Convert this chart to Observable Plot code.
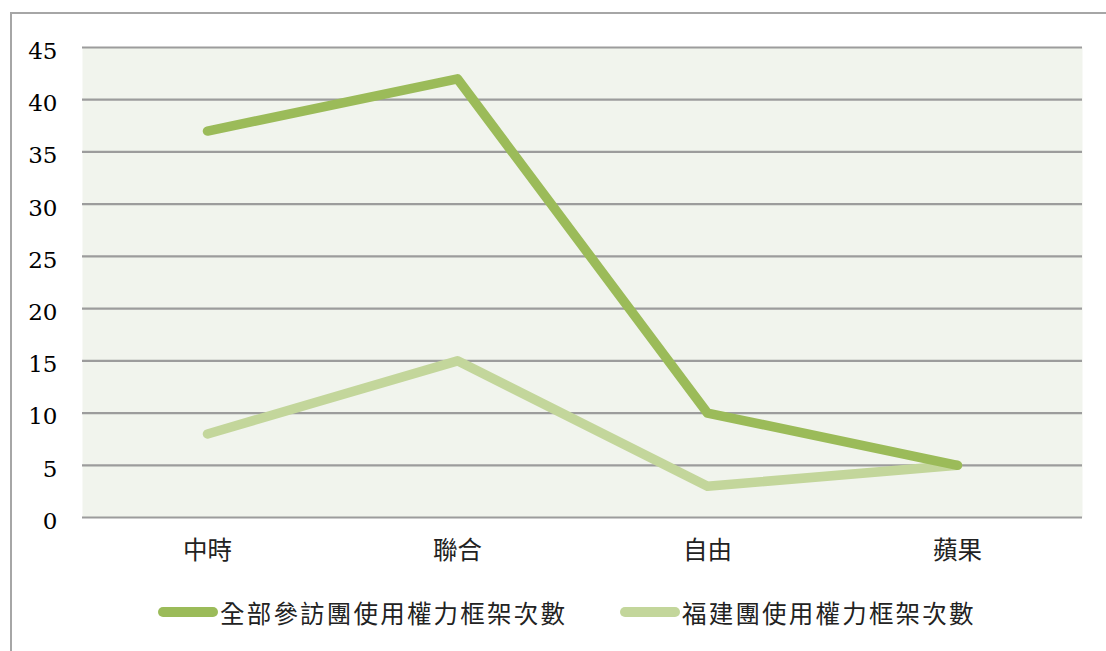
<!DOCTYPE html>
<html>
<head>
<meta charset="utf-8">
<script src="https://cdn.jsdelivr.net/npm/d3@7"></script>
<script src="https://cdn.jsdelivr.net/npm/@observablehq/plot@0.6"></script>
<style>
  html, body { margin: 0; padding: 0; width: 1106px; height: 651px; overflow: hidden; background: #fff; }
  #frame { position: absolute; left: 10px; top: 12px; width: 1200px; height: 700px; border: 2px solid #a6a6a6; box-sizing: border-box; }
  #chart { position: absolute; left: 0; top: 0; }
  #legend { position: absolute; left: 0; top: 594px; width: 1106px; height: 36px; font-family: "Noto Sans CJK TC", "Noto Sans CJK SC", sans-serif; font-size: 24.5px; color: #222; letter-spacing: 2.2px; }
  .item { position: absolute; top: 0; display: flex; align-items: center; height: 36px; }
  .sw { width: 60px; height: 10px; border-radius: 5px; margin-right: 2px; }
</style>
</head>
<body>
<div id="frame"></div>
<div id="chart"></div>
<div id="legend"></div>
<script>
const categories = ["中時", "聯合", "自由", "蘋果"];
const seriesNames = ["全部參訪團使用權力框架次數", "福建團使用權力框架次數"];
const allGroups = [37, 42, 10, 5];
const fujianGroup = [8, 15, 3, 5];
const yTicks = [0, 5, 10, 15, 20, 25, 30, 35, 40, 45];
const colors = ["#9bbb59", "#c3d69b"];

const data = [];
categories.forEach((c, i) => {
  data.push({ cat: c, value: allGroups[i], series: seriesNames[0] });
  data.push({ cat: c, value: fujianGroup[i], series: seriesNames[1] });
});

const chart = Plot.plot({
  width: 1106,
  height: 575,
  marginTop: 47,
  marginLeft: 82,
  marginRight: 24,
  marginBottom: 58,
  style: { background: "transparent", overflow: "visible" },
  x: { type: "point", domain: categories, padding: 0.5, label: null },
  y: { domain: [0, 45], label: null },
  color: { domain: seriesNames, range: colors },
  marks: [
    Plot.frame({ fill: "#f1f4ed", stroke: null }),
    Plot.ruleY(yTicks, { stroke: "#9c9c9c", strokeWidth: 2.2 }),
    Plot.axisY({ ticks: yTicks, tickSize: 0, tickPadding: 25, fontSize: 23, fontFamily: "DejaVu Serif", fill: "#000", dy: 4, label: null }),
    Plot.axisX({ tickSize: 0, tickPadding: 24, fontSize: 24.5, fontFamily: "Noto Sans CJK TC", fill: "#222", label: null }),
    Plot.line(data.filter(d => d.series === seriesNames[1]), { x: "cat", y: "value", stroke: colors[1], strokeWidth: 9.5, strokeLinecap: "round", strokeLinejoin: "round" }),
    Plot.line(data.filter(d => d.series === seriesNames[0]), { x: "cat", y: "value", stroke: colors[0], strokeWidth: 9.5, strokeLinecap: "round", strokeLinejoin: "round" })
  ]
});
document.getElementById("chart").appendChild(chart);

const legend = document.getElementById("legend");
const lefts = [158, 620];
seriesNames.forEach((s, i) => {
  const it = document.createElement("div");
  it.className = "item";
  it.style.left = lefts[i] + "px";
  const sw = document.createElement("div");
  sw.className = "sw";
  sw.style.background = colors[i];
  const t = document.createElement("span");
  t.textContent = s;
  it.appendChild(sw);
  it.appendChild(t);
  legend.appendChild(it);
});
</script>
</body>
</html>
